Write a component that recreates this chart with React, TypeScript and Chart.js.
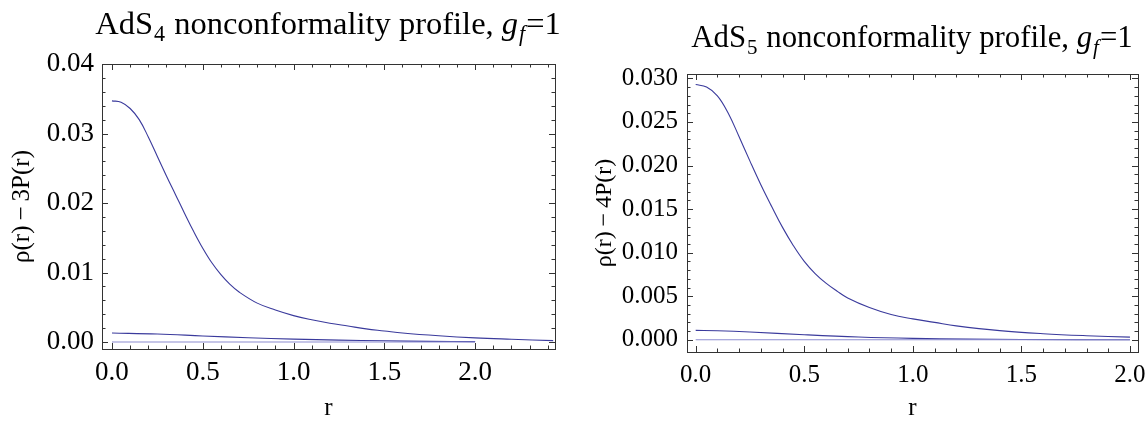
import React, { useEffect, useRef } from "react";
import { Chart, registerables } from "chart.js";

Chart.register(...registerables);

// ---------- data ----------
const ads4MainR = [0, 0.05, 0.1, 0.15, 0.2, 0.25, 0.3, 0.35, 0.4, 0.45, 0.5, 0.55, 0.6, 0.65, 0.7, 0.8, 0.9, 1.0, 1.1, 1.2, 1.3, 1.4, 1.5, 1.6, 1.8, 2.0, 2.2, 2.43];
const ads4MainV = [0.0347, 0.0345, 0.0336, 0.032, 0.0295, 0.0267, 0.0239, 0.0212, 0.0185, 0.0159, 0.0135, 0.0114, 0.0097, 0.0083, 0.0072, 0.0056, 0.0046, 0.0038, 0.0032, 0.0027, 0.0023, 0.0019, 0.0016, 0.0013, 0.0009, 0.0006, 0.0004, 0.0002];
const ads4SecondR = [0, 0.25, 0.5, 0.75, 1.0, 1.25, 1.5, 1.75, 2.0];
const ads4SecondV = [0.0013, 0.00115, 0.00088, 0.00062, 0.00042, 0.00028, 0.00018, 0.0001, 0.00006];
const ads4ZeroR = [0, 2.0];
const ads4ZeroV = [0, 0];

const ads5MainR = [0, 0.05, 0.1, 0.15, 0.2, 0.25, 0.3, 0.35, 0.4, 0.45, 0.5, 0.55, 0.6, 0.65, 0.7, 0.8, 0.9, 1.0, 1.1, 1.2, 1.4, 1.6, 1.8, 2.0];
const ads5MainV = [0.0293, 0.029, 0.028, 0.026, 0.0233, 0.0205, 0.0178, 0.0153, 0.0129, 0.0108, 0.009, 0.0076, 0.0065, 0.0056, 0.0048, 0.0037, 0.0029, 0.0024, 0.002, 0.0016, 0.00105, 0.0007, 0.00047, 0.00031];
const ads5SecondR = [0, 0.1, 0.25, 0.5, 0.75, 1.0, 1.25, 1.5, 2.0];
const ads5SecondV = [0.00108, 0.00104, 0.0009, 0.00058, 0.00032, 0.00016, 0.00008, 0.00004, 0.00001];
const ads5ZeroR = [0, 2.0];
const ads5ZeroV = [0, 0];

const xTickValues = [0, 0.5, 1.0, 1.5, 2.0];
const ads4YTickValues = [0, 0.01, 0.02, 0.03, 0.04];
const ads5YTickValues = [0, 0.005, 0.01, 0.015, 0.02, 0.025, 0.03];

const ads4Title = ["AdS", "4", " nonconformality profile, ", "g", "f", "=1"];
const ads5Title = ["AdS", "5", " nonconformality profile, ", "g", "f", "=1"];
const ads4YLabel = "ρ(r)\u2009−\u20093P(r)";
const ads5YLabel = "ρ(r)\u2009−\u20094P(r)";
const xLabel = "r";

const FONT = '"Liberation Serif", "DejaVu Serif", serif';
const LINE = "#3a3a9c";
const ZERO = "#8c8cd0";

type Spec = {
  canvasLeft: number;
  canvasWidth: number;
  padTop: number;
  padRight: number;
  yWidth: number;
  xHeight: number;
  xMin: number;
  xMax: number;
  yMin: number;
  yMax: number;
  yTicks: number[];
  yDigits: number;
  yMinorStep: number;
  yMinorCount: number;
  xMinorMax: number;
  tickFont: number;
  xTickPad: number;
  yTickPad: number;
  titleFont: number;
  titleCx: number;
  titleBase: number;
  title: string[];
  yLabel: string;
  yLabelFont: number;
  yTitlePad: number;
  series: { r: number[]; v: number[]; color: string }[];
};

const pts = (r: number[], v: number[]) => r.map((x, i) => ({ x, y: v[i] }));

function Panel({ spec }: { spec: Spec }) {
  const ref = useRef<HTMLCanvasElement | null>(null);
  useEffect(() => {
    if (!ref.current) return;
    const s = spec;
    const framePlugin = {
      id: "frameAndTitle",
      afterDraw(chart: any) {
        const ctx = chart.ctx;
        const a = chart.chartArea;
        const xs = chart.scales.x;
        const ys = chart.scales.y;
        ctx.save();
        ctx.strokeStyle = "#333";
        ctx.lineWidth = 1;
        ctx.strokeRect(Math.round(a.left) + 0.5, Math.round(a.top) + 0.5, Math.round(a.right - a.left), Math.round(a.bottom - a.top));
        ctx.beginPath();
        for (let i = 0; i <= Math.round(s.xMinorMax * 10); i++) {
          const v = i / 10;
          const px = Math.round(xs.getPixelForValue(v)) + 0.5;
          const len = i % 5 === 0 ? 6 : 3.5;
          ctx.moveTo(px, a.bottom);
          ctx.lineTo(px, a.bottom - len);
          ctx.moveTo(px, a.top);
          ctx.lineTo(px, a.top + len);
        }
        for (let i = 0; i <= s.yMinorCount; i++) {
          const v = i * s.yMinorStep;
          const py = Math.round(ys.getPixelForValue(v)) + 0.5;
          const len = i % 5 === 0 ? 6 : 3.5;
          ctx.moveTo(a.left, py);
          ctx.lineTo(a.left + len, py);
          ctx.moveTo(a.right, py);
          ctx.lineTo(a.right - len, py);
        }
        ctx.stroke();
        const segs = s.title.map((t, i) => ({
          t,
          sub: i === 1 || i === 4,
          italic: i === 3 || i === 4,
        }));
        let total = 0;
        const widths: number[] = [];
        segs.forEach((g) => {
          const size = g.sub ? s.titleFont * 0.68 : s.titleFont;
          ctx.font = `${g.italic ? "italic " : ""}${size}px ${FONT}`;
          const w = ctx.measureText(g.t).width + (g.sub ? 2 : 0);
          widths.push(w);
          total += w;
        });
        let x = s.titleCx - total / 2;
        ctx.fillStyle = "#000";
        ctx.textBaseline = "alphabetic";
        ctx.textAlign = "left";
        segs.forEach((g, i) => {
          const size = g.sub ? s.titleFont * 0.68 : s.titleFont;
          ctx.font = `${g.italic ? "italic " : ""}${size}px ${FONT}`;
          ctx.fillText(g.t, x + (g.sub ? 1 : 0), s.titleBase + (g.sub ? s.titleFont * 0.22 : 0));
          x += widths[i];
        });
        ctx.restore();
      },
    };

    const chart = new Chart(ref.current, {
      type: "line",
      data: {
        datasets: s.series.map((sr) => ({
          data: pts(sr.r, sr.v),
          borderColor: sr.color,
          borderWidth: 1.1,
          pointRadius: 0,
          fill: false,
          tension: 0.4,
        })),
      },
      options: {
        animation: false,
        responsive: false,
        events: [],
        layout: { padding: { top: s.padTop, right: s.padRight, left: 0, bottom: 0 } },
        plugins: { legend: { display: false }, tooltip: { enabled: false }, title: { display: false } },
        scales: {
          x: {
            type: "linear",
            min: s.xMin,
            max: s.xMax,
            grid: { display: false },
            border: { display: false },
            afterBuildTicks: (sc: any) => {
              sc.ticks = xTickValues.map((v) => ({ value: v }));
            },
            afterFit: (sc: any) => {
              sc.height = s.xHeight;
            },
            ticks: {
              color: "#000",
              padding: s.xTickPad,
              maxRotation: 0,
              font: { family: FONT, size: s.tickFont },
              callback: (v: any) => Number(v).toFixed(1),
            },
            title: {
              display: true,
              text: xLabel,
              color: "#000",
              font: { family: FONT, size: 25 },
              padding: { top: 0, bottom: 0 },
            },
          },
          y: {
            type: "linear",
            min: s.yMin,
            max: s.yMax,
            grid: { display: false },
            border: { display: false },
            afterBuildTicks: (sc: any) => {
              sc.ticks = s.yTicks.map((v) => ({ value: v }));
            },
            afterFit: (sc: any) => {
              sc.width = s.yWidth;
            },
            ticks: {
              color: "#000",
              padding: s.yTickPad,
              font: { family: FONT, size: s.tickFont },
              callback: (v: any) => Number(v).toFixed(s.yDigits),
            },
            title: {
              display: true,
              text: s.yLabel,
              color: "#000",
              font: { family: FONT, size: s.yLabelFont },
              padding: { top: s.yTitlePad, bottom: 0 },
            },
          },
        },
      },
      plugins: [framePlugin],
    } as any);
    return () => chart.destroy();
  }, [spec]);
  return (
    <canvas
      ref={ref}
      width={spec.canvasWidth}
      height={423}
      style={{ position: "absolute", left: spec.canvasLeft, top: 0, width: spec.canvasWidth, height: 423 }}
    />
  );
}

const leftSpec: Spec = {
  canvasLeft: 0,
  canvasWidth: 570,
  padTop: 64,
  padRight: 15,
  yWidth: 102,
  xHeight: 74,
  xMin: -0.055,
  xMax: 2.44,
  yMin: -0.001,
  yMax: 0.04,
  yTicks: ads4YTickValues,
  yDigits: 2,
  yMinorStep: 0.002,
  yMinorCount: 20,
  xMinorMax: 2.4,
  tickFont: 27,
  xTickPad: 0,
  yTickPad: 0,
  titleFont: 32.5,
  titleCx: 328,
  titleBase: 34,
  title: ads4Title,
  yLabel: ads4YLabel,
  yLabelFont: 25,
  yTitlePad: 7,
  series: [
    { r: ads4ZeroR, v: ads4ZeroV, color: ZERO },
    { r: ads4SecondR, v: ads4SecondV, color: LINE },
    { r: ads4MainR, v: ads4MainV, color: LINE },
  ],
};

const rightSpec: Spec = {
  canvasLeft: 570,
  canvasWidth: 577,
  padTop: 74,
  padRight: 9,
  yWidth: 117,
  xHeight: 71,
  xMin: -0.04,
  xMax: 2.037,
  yMin: -0.0014,
  yMax: 0.0305,
  yTicks: ads5YTickValues,
  yDigits: 3,
  yMinorStep: 0.001,
  yMinorCount: 30,
  xMinorMax: 2.0,
  tickFont: 25,
  xTickPad: 0,
  yTickPad: 1,
  titleFont: 30.8,
  titleCx: 342,
  titleBase: 47,
  title: ads5Title,
  yLabel: ads5YLabel,
  yLabelFont: 24,
  yTitlePad: 20,
  series: [
    { r: ads5ZeroR, v: ads5ZeroV, color: ZERO },
    { r: ads5SecondR, v: ads5SecondV, color: LINE },
    { r: ads5MainR, v: ads5MainV, color: LINE },
  ],
};

export default function App() {
  return (
    <div style={{ position: "absolute", left: 0, top: 0, width: 1147, height: 423, background: "#fff" }}>
      <Panel spec={leftSpec} />
      <Panel spec={rightSpec} />
    </div>
  );
}
